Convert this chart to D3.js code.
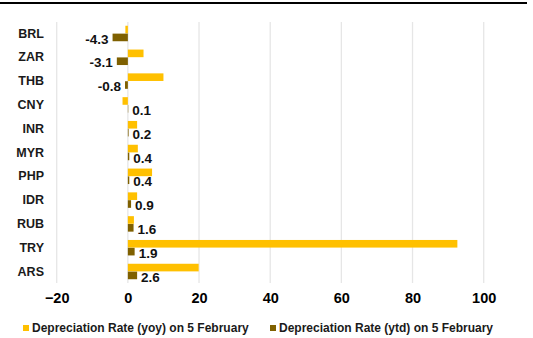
<!DOCTYPE html>
<html>
<head>
<meta charset="utf-8">
<script src="https://cdn.jsdelivr.net/npm/d3@7"></script>
<style>
  html, body { margin: 0; padding: 0; background: #fff; }
  svg { display: block; }
  text { font-family: "Liberation Sans", Arial, sans-serif; font-weight: bold; }
</style>
</head>
<body>
<svg id="chart" width="533" height="338"></svg>
<script>
// Currency codes, top to bottom
const currencies = ["BRL", "ZAR", "THB", "CNY", "INR", "MYR", "PHP", "IDR", "RUB", "TRY", "ARS"];
// Depreciation rate, year on year (%)
const yoyRates = [-0.7, 4.4, 10.0, -1.5, 2.6, 2.8, 6.8, 2.6, 1.7, 92.6, 19.9];
// Depreciation rate, year to date (%)
const ytdRates = [-4.3, -3.1, -0.8, 0.1, 0.2, 0.4, 0.4, 0.9, 1.6, 1.9, 2.6];
const xTicks = [-20, 0, 20, 40, 60, 80, 100];
const seriesNames = ["Depreciation Rate (yoy) on 5 February", "Depreciation Rate (ytd) on 5 February"];
const seriesColors = ["#FFC000", "#7F6000"];

const svg = d3.select("#chart");

// top rule
svg.append("line")
  .attr("x1", 0).attr("x2", 527).attr("y1", 3).attr("y2", 3)
  .attr("stroke", "#000").attr("stroke-width", 2.2);

const plotTop = 21.6, plotBottom = 283.4;
const x = d3.scaleLinear().domain([-20, 100]).range([56.7, 483.7]);
const y = d3.scaleBand().domain(currencies).range([plotTop, plotBottom])
  .paddingInner(0.33).paddingOuter(0.165);
const sub = d3.scaleBand().domain([0, 1]).range([0, y.bandwidth()]).padding(0.03);

// vertical gridlines
svg.append("g").selectAll("line").data(xTicks).join("line")
  .attr("x1", d => x(d)).attr("x2", d => x(d))
  .attr("y1", 22).attr("y2", 283)
  .attr("stroke", "#E6E6E6").attr("stroke-width", 1.3);

// x axis tick labels
const xAxis = d3.axisBottom(x).tickValues(xTicks).tickSize(0).tickPadding(0);
const gx = svg.append("g").attr("transform", "translate(0,293)").call(xAxis);
gx.select(".domain").remove();
gx.selectAll("text")
  .attr("font-size", 14.5).attr("fill", "#000")
  .attr("font-family", "Liberation Sans, Arial, sans-serif").attr("font-weight", "bold");

// category labels
const yAxis = d3.axisLeft(y).tickSize(0).tickPadding(0);
const gy = svg.append("g").attr("transform", "translate(44,0)").call(yAxis);
gy.select(".domain").remove();
gy.selectAll("text")
  .attr("font-size", 12.5).attr("fill", "#1a1a1a")
  .attr("font-family", "Liberation Sans, Arial, sans-serif").attr("font-weight", "bold");

const rows = currencies.map((c, i) => ({ c, yoy: yoyRates[i], ytd: ytdRates[i] }));

// yoy bars
svg.append("g").selectAll("rect").data(rows).join("rect")
  .attr("x", d => x(Math.min(0, d.yoy)))
  .attr("width", d => Math.abs(x(d.yoy) - x(0)))
  .attr("y", d => y(d.c) + sub(0))
  .attr("height", sub.bandwidth())
  .attr("fill", seriesColors[0]);

// ytd bars
svg.append("g").selectAll("rect").data(rows).join("rect")
  .attr("x", d => x(Math.min(0, d.ytd)))
  .attr("width", d => Math.abs(x(d.ytd) - x(0)))
  .attr("y", d => y(d.c) + sub(1))
  .attr("height", sub.bandwidth())
  .attr("fill", seriesColors[1]);

// ytd value labels
svg.append("g").selectAll("text").data(rows).join("text")
  .attr("x", d => d.ytd < 0 ? x(d.ytd) - 4 : x(d.ytd) + 4)
  .attr("y", d => y(d.c) + sub(1) + sub.bandwidth() / 2 + 1.5)
  .attr("dy", "0.35em")
  .attr("text-anchor", d => d.ytd < 0 ? "end" : "start")
  .attr("font-family", "Lato, 'Liberation Sans', sans-serif")
  .attr("font-size", 13.5).attr("font-weight", 900).attr("fill", "#111")
  .text(d => d.ytd.toFixed(1));

// legend
const legendItems = [{ x: 23, i: 0 }, { x: 270, i: 1 }];
const lg = svg.append("g").selectAll("g").data(legendItems).join("g")
  .attr("transform", d => `translate(${d.x},328)`);
lg.append("rect").attr("x", 0).attr("y", -3).attr("width", 6).attr("height", 6)
  .attr("fill", d => seriesColors[d.i]);
lg.append("text").attr("x", 9).attr("y", 0).attr("dy", "0.35em")
  .attr("font-size", 12).attr("fill", "#1a1a1a")
  .text(d => seriesNames[d.i]);
</script>
</body>
</html>
